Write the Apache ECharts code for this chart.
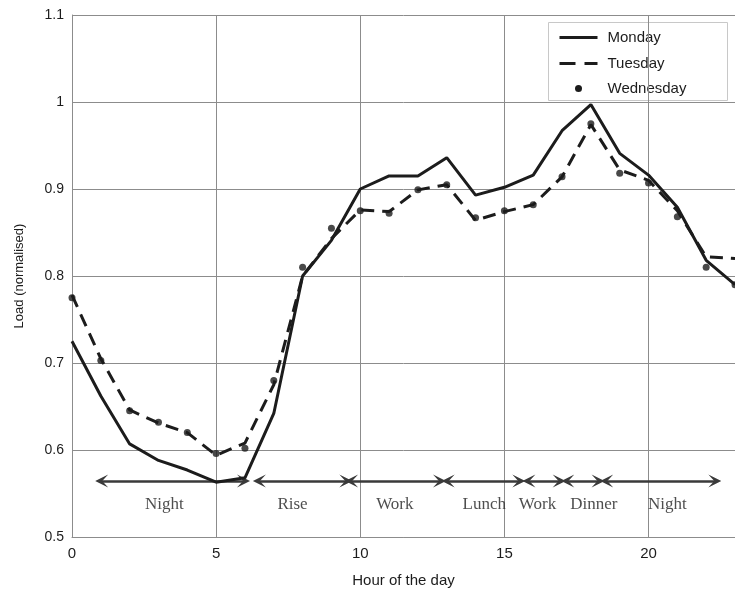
<!DOCTYPE html>
<html>
<head>
<meta charset="utf-8">
<script src="https://cdn.jsdelivr.net/npm/echarts@6/dist/echarts.min.js"></script>
<style>
  html, body { margin: 0; padding: 0; background: #fff; }
  #chart { width: 735px; height: 596px; }
</style>
</head>
<body>
<div id="chart"></div>
<script>
// Hour of the day (x) and normalised load per weekday
var hours = [0,1,2,3,4,5,6,7,8,9,10,11,12,13,14,15,16,17,18,19,20,21,22,23];
var monday = [0.725,0.662,0.607,0.588,0.577,0.563,0.568,0.642,0.800,0.841,0.900,0.915,0.915,0.936,0.893,0.902,0.916,0.967,0.997,0.941,0.916,0.879,0.818,0.790];
var tuesday = [0.778,0.705,0.646,0.631,0.620,0.594,0.608,0.675,0.800,0.843,0.876,0.874,0.899,0.905,0.864,0.874,0.882,0.914,0.974,0.922,0.910,0.875,0.822,0.820];
var wednesday = [0.775,0.703,0.645,0.632,0.620,0.596,0.602,0.680,0.810,0.855,0.875,0.872,0.899,0.905,0.867,0.875,0.882,0.914,0.975,0.918,0.907,0.868,0.810,0.790];
var dayNames = ['Monday', 'Tuesday', 'Wednesday'];

// Periods of the day: span in hours and label position
var periodNames = ['Night', 'Rise', 'Work', 'Lunch', 'Work', 'Dinner', 'Night'];
var periodStart = [1.03, 6.5, 9.7, 13.05, 15.85, 17.2, 18.55];
var periodEnd = [5.95, 9.5, 12.75, 15.5, 16.9, 18.25, 22.3];
var periodLabelX = [3.2, 7.65, 11.2, 14.3, 16.15, 18.1, 20.65];
var periodArrowY = 0.5644;
var periodLabelY = 0.5368;

var xTicks = [0, 5, 10, 15, 20];

function pairs(xs, ys) { return xs.map(function (x, i) { return [x, ys[i]]; }); }

var chart = echarts.init(document.getElementById('chart'), null, { renderer: 'canvas' });

var ink = '#1c1c1c';
var gridColor = '#8c8c8c';
// open arrowhead, pointing up before rotation
var chevron = 'path://M0,12 L6,0 L12,12 L6,6.5 Z';

var option = {
  animation: false,
  backgroundColor: '#fff',
  grid: { left: 72, right: -4, top: 15, bottom: 59, containLabel: false },
  xAxis: {
    type: 'value', min: 0, max: 23, interval: 5,
    name: 'Hour of the day', nameLocation: 'middle', nameGap: 36,
    nameTextStyle: { fontFamily: 'Liberation Sans', fontSize: 15, color: ink },
    axisLine: { show: true, lineStyle: { color: gridColor, width: 1 } },
    axisTick: { show: false },
    axisLabel: {
      fontFamily: 'Liberation Sans', fontSize: 15, color: ink, margin: 9,
      showMaxLabel: false,
      formatter: function (v) { return xTicks.indexOf(v) >= 0 ? String(v) : ''; }
    },
    splitLine: { show: true, lineStyle: { color: gridColor, width: 1 } }
  },
  yAxis: {
    type: 'value', min: 0.5, max: 1.1, interval: 0.1,
    name: 'Load (normalised)', nameLocation: 'middle', nameGap: 46, nameRotate: 90,
    nameTextStyle: { fontFamily: 'Liberation Sans', fontSize: 13, color: ink },
    axisLine: { show: true, lineStyle: { color: gridColor, width: 1 } },
    axisTick: { show: false },
    axisLabel: {
      fontFamily: 'Liberation Sans', fontSize: 14, color: ink, margin: 8,
      formatter: function (v) { return String(parseFloat(v.toFixed(1))); }
    },
    splitLine: { show: true, lineStyle: { color: gridColor, width: 1 } }
  },
  series: [
    {
      name: 'periods', type: 'lines', coordinateSystem: 'cartesian2d', z: 2,
      symbol: [chevron, chevron], symbolSize: [13, 13],
      lineStyle: { color: '#3a3a3a', width: 2.5, opacity: 1 },
      silent: true,
      data: periodStart.map(function (s, i) {
        return { coords: [[s, periodArrowY], [periodEnd[i], periodArrowY]] };
      })
    },
    {
      name: 'periodLabels', type: 'scatter', symbolSize: 0, z: 2, silent: true,
      label: {
        show: true, position: 'inside',
        fontFamily: 'Liberation Serif', fontSize: 17, color: '#222',
        formatter: function (p) { return periodNames[p.dataIndex]; }
      },
      data: periodLabelX.map(function (x) { return [x, periodLabelY]; })
    },
    {
      name: dayNames[0], type: 'line', data: pairs(hours, monday), z: 4,
      symbol: 'none', lineStyle: { color: ink, width: 3 }
    },
    {
      name: dayNames[1], type: 'line', data: pairs(hours, tuesday), z: 4,
      symbol: 'none', lineStyle: { color: ink, width: 3, type: [13, 8] }
    },
    {
      name: dayNames[2], type: 'scatter', data: pairs(hours, wednesday), z: 5,
      symbol: 'circle', symbolSize: 7, itemStyle: { color: ink }
    }
  ],
  graphic: [
    {
      type: 'group', left: 548, top: 22, z: 10,
      children: [
        { type: 'rect', shape: { x: 0, y: 0, width: 179, height: 78 },
          style: { fill: '#fff', stroke: '#c8c8c8', lineWidth: 1 } },
        { type: 'line', shape: { x1: 11, y1: 15, x2: 49, y2: 15 },
          style: { stroke: ink, lineWidth: 3 } },
        { type: 'line', shape: { x1: 11, y1: 41, x2: 49, y2: 41 },
          style: { stroke: ink, lineWidth: 3, lineDash: [16, 9] } },
        { type: 'circle', shape: { cx: 30, cy: 66, r: 3.5 }, style: { fill: ink } },
        { type: 'text', x: 59, y: 15, style: { text: dayNames[0], fill: ink, font: '15px "Liberation Sans"', verticalAlign: 'middle' } },
        { type: 'text', x: 59, y: 41, style: { text: dayNames[1], fill: ink, font: '15px "Liberation Sans"', verticalAlign: 'middle' } },
        { type: 'text', x: 59, y: 66, style: { text: dayNames[2], fill: ink, font: '15px "Liberation Sans"', verticalAlign: 'middle' } }
      ]
    }
  ]
};

chart.setOption(option);
</script>
</body>
</html>
